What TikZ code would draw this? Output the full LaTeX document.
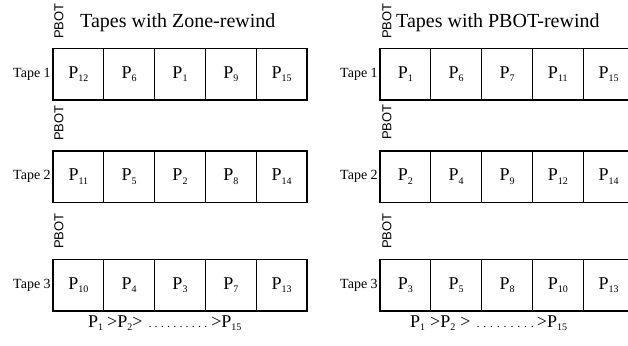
\documentclass[tikz,border=0pt]{standalone}
\usepackage{fontspec}
\setmainfont{Liberation Serif}
\newfontfamily\pbotfont{Liberation Sans}
\newcommand{\cellP}[1]{P\raisebox{-3.5pt}{\fontsize{10}{10}\selectfont #1}}
\newcommand{\onedot}[1]{.\kern#1}
\begin{document}
\begin{tikzpicture}[x=1pt,y=-1pt,
  cellbox/.style={draw,line width=1.2pt,minimum width=50.8pt,minimum height=51.5pt,inner sep=0pt,font=\fontsize{18}{18}\selectfont},
  tapelabel/.style={anchor=east,inner sep=0pt,font=\fontsize{14}{14}\selectfont},
  pbot/.style={rotate=90,inner sep=0pt,font=\pbotfont\fontsize{13}{13}\selectfont},
  titletext/.style={anchor=base west,inner sep=0pt,font=\fontsize{20}{20}\selectfont},
  ordertext/.style={anchor=base west,inner sep=0pt,font=\fontsize{18}{18}\selectfont}]
\useasboundingbox (0,0) rectangle (628,345);
\clip (0,0) rectangle (628,345);
% titles
\node[titletext] (ltitle) at (80,28) {Tapes with Zone-rewind};
\node[titletext] (rtitle) at (396,28) {Tapes with PBOT-rewind};
% left panel
\foreach \v [count=\i] in {12,6,1,9,15}
  \node[cellbox] (L1c\i) at ({78.4+(\i-1)*50.8},74.25) {\cellP{\v}};
\foreach \v [count=\i] in {11,5,2,8,14}
  \node[cellbox] (L2c\i) at ({78.4+(\i-1)*50.8},176.75) {\cellP{\v}};
\foreach \v [count=\i] in {10,4,3,7,13}
  \node[cellbox] (L3c\i) at ({78.4+(\i-1)*50.8},285.25) {\cellP{\v}};
% right panel
\foreach \v [count=\i] in {1,6,7,11,15}
  \node[cellbox] (R1c\i) at ({405.4+(\i-1)*50.8},74.25) {\cellP{\v}};
\foreach \v [count=\i] in {2,4,9,12,14}
  \node[cellbox] (R2c\i) at ({405.4+(\i-1)*50.8},176.75) {\cellP{\v}};
\foreach \v [count=\i] in {3,5,8,10,13}
  \node[cellbox] (R3c\i) at ({405.4+(\i-1)*50.8},285.25) {\cellP{\v}};
% tape labels
\foreach \s in {L,R}
  \foreach \r in {1,2,3}
    \node[tapelabel] (\s\r tape) at ([xshift=-1.5pt]\s\r c1.west) {Tape \r};
% PBOT labels
\node[pbot] (Lpbot1) at (59,21) {PBOT};
\node[pbot] (Lpbot2) at (59,123) {PBOT};
\node[pbot] (Lpbot3) at (59,231) {PBOT};
\node[pbot] (Rpbot1) at (387,21) {PBOT};
\node[pbot] (Rpbot2) at (387,122) {PBOT};
\node[pbot] (Rpbot3) at (387,231) {PBOT};
% order lines
\node[ordertext] (lorder) at (88,327) {\cellP{1}\kern4pt>\cellP{2}>\kern6pt{\fontsize{12}{12}\selectfont\onedot{3.2pt}\onedot{3.2pt}\onedot{3.2pt}\onedot{3.2pt}\onedot{3.2pt}\onedot{3.2pt}\onedot{3.2pt}\onedot{3.2pt}\onedot{3.2pt}.}\kern4pt>\cellP{15}};
\node[ordertext] (rorder) at (410,327) {\cellP{1}\kern5pt>\cellP{2}\kern5pt>\kern6pt{\fontsize{12}{12}\selectfont\onedot{3.8pt}\onedot{3.8pt}\onedot{3.8pt}\onedot{3.8pt}\onedot{3.8pt}\onedot{3.8pt}\onedot{3.8pt}\onedot{3.8pt}.}\kern3pt>\cellP{15}};
\end{tikzpicture}
\end{document}
